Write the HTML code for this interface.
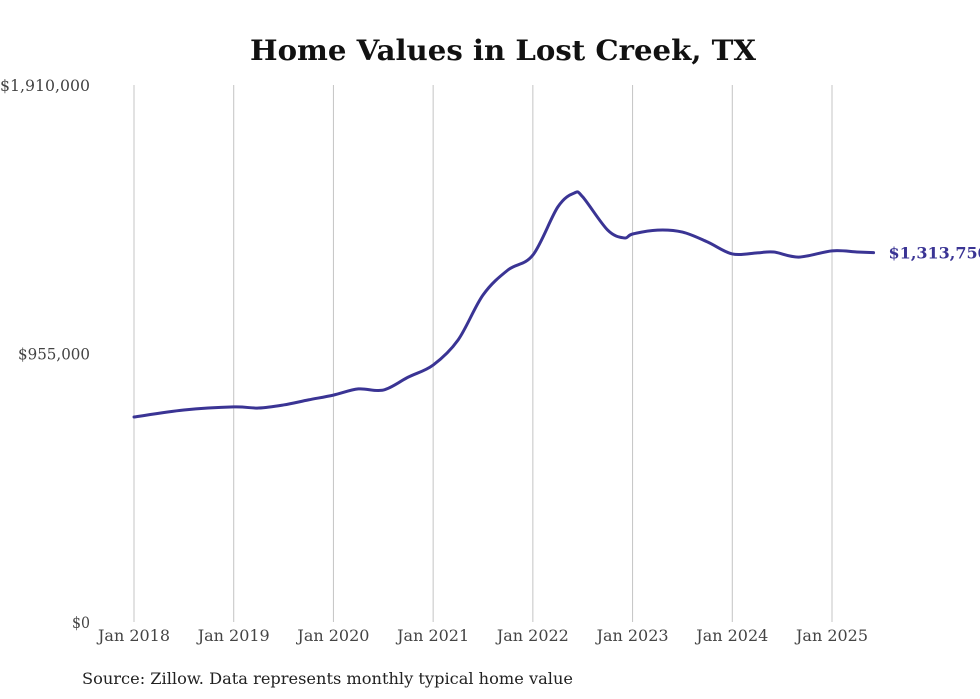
<!DOCTYPE html>
<html><head><meta charset="utf-8"><style>
html,body{margin:0;padding:0;background:#fff;width:980px;height:699px;overflow:hidden}
svg text{font-family:"DejaVu Serif","Liberation Serif",serif}
</style></head><body>
<svg id="chart" width="980" height="699" viewBox="0 0 980 699" xmlns="http://www.w3.org/2000/svg">
<text x="503" y="60" text-anchor="middle" font-size="28" font-weight="bold" fill="#111" textLength="506" lengthAdjust="spacingAndGlyphs">Home Values in Lost Creek, TX</text>
<g id="grid"></g><g id="yaxis"></g><g id="xaxis"></g><g id="series"></g>
<text x="82" y="684" font-size="16" fill="#222" textLength="491" lengthAdjust="spacingAndGlyphs">Source: Zillow. Data represents monthly typical home value</text>
</svg>
<script>
const months = [0,6,12,15,18,21,24,27,30,33,36,39,42,45,48,51,53,54,57,59,60,63,66,69,72,75,77,80,84,87,89];
const values = [729000,754000,765000,761000,772000,790000,807000,829000,825000,871000,914000,1003000,1163000,1252000,1305000,1476000,1526000,1512000,1394000,1366000,1380000,1394000,1387000,1352000,1309000,1313000,1316000,1298000,1320000,1316000,1313750];
const yTicks = [0,955000,1910000];
const yTickLabels = ["$0","$955,000","$1,910,000"];
const xTickMonths = [0,12,24,36,48,60,72,84];
const xTickLabels = ["Jan 2018","Jan 2019","Jan 2020","Jan 2021","Jan 2022","Jan 2023","Jan 2024","Jan 2025"];
const lastLabel = "$1,313,750";

const NS="http://www.w3.org/2000/svg";
const x0=134, pxPerMonth=(832-134)/84, yBottom=622, yTop=85, yMax=1910000;
const xs=m=>x0+m*pxPerMonth;
const ys=v=>yBottom-(v/yMax)*(yBottom-yTop);
function el(tag,attrs,parent){const e=document.createElementNS(NS,tag);for(const k in attrs)e.setAttribute(k,attrs[k]);parent.appendChild(e);return e;}
const grid=document.getElementById('grid'),xa=document.getElementById('xaxis'),ya=document.getElementById('yaxis'),se=document.getElementById('series');
xTickMonths.forEach((m,i)=>{
  const l=el('line',{x1:xs(m),x2:xs(m),y1:yTop,y2:yBottom,stroke:'#c4c4c4','stroke-width':1},grid);
  
  
  const t=el('text',{x:xs(m),y:641,'text-anchor':'middle','font-size':16,fill:'#444',textLength:72,lengthAdjust:'spacingAndGlyphs'},xa);
  t.textContent=xTickLabels[i];
  
  
});
yTicks.forEach((v,i)=>{
  const t=el('text',{x:90,y:ys(v)+6,'text-anchor':'end','font-size':16,fill:'#444',textLength:(yTickLabels[i].length*9),lengthAdjust:'spacingAndGlyphs'},ya);
  t.textContent=yTickLabels[i];
  
  
});
const pts=months.map((m,i)=>[xs(m),ys(values[i])]);
let d='M'+pts[0][0]+','+pts[0][1];
for(let i=0;i<pts.length-1;i++){
  const p0=pts[Math.max(0,i-1)],p1=pts[i],p2=pts[i+1],p3=pts[Math.min(pts.length-1,i+2)];
  const c1=[p1[0]+(p2[0]-p0[0])/6,p1[1]+(p2[1]-p0[1])/6],c2=[p2[0]-(p3[0]-p1[0])/6,p2[1]-(p3[1]-p1[1])/6];
  d+=' C'+c1[0]+','+c1[1]+' '+c2[0]+','+c2[1]+' '+p2[0]+','+p2[1];
}
const path=el('path',{d:d,fill:'none',stroke:'#3a3494','stroke-width':3,'stroke-linejoin':'round','stroke-linecap':'round'},se);


const last=pts[pts.length-1];
const lt=el('text',{x:last[0]+15,y:last[1]+6,'font-size':16,'font-weight':'bold',fill:'#3a3494'},se);
lt.textContent=lastLabel;


</script>
</body></html>
